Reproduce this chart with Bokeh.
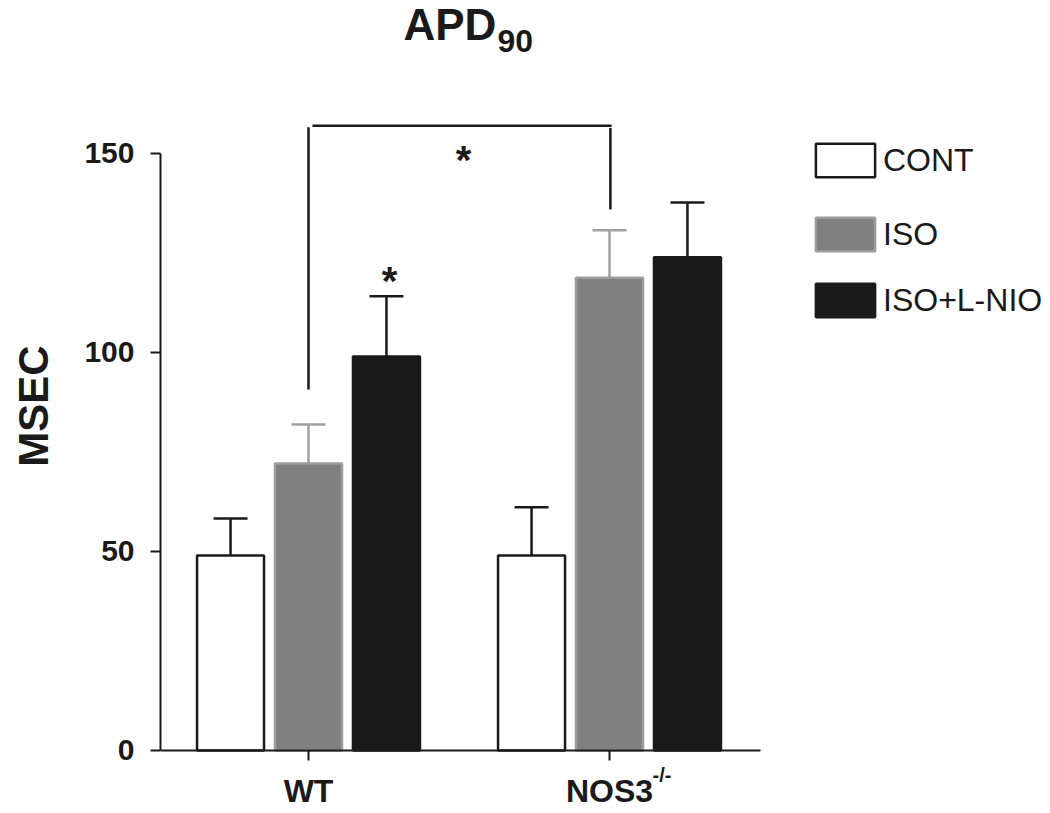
from bokeh.plotting import figure
from bokeh.models import (ColumnDataSource, Whisker, TeeHead, Label, Legend,
                          LegendItem, FixedTicker)
from bokeh.embed import file_html
from bokeh.resources import INLINE

# ---- data ----
groups = ["WT", "NOS3"]
group_pos = [0, 1]
series = ["CONT", "ISO", "ISO+L-NIO"]
cont_mean = [49.0, 49.0]
iso_mean = [72.1, 118.8]
iln_mean = [99.0, 123.9]
cont_err = [9.3, 12.1]
iso_err = [9.8, 11.9]
iln_err = [15.1, 13.8]
y_ticks = [0, 50, 100, 150]

# significance bracket (WT vs NOS3 ISO) and star markers
bracket_left_x = [0.0, 0.0]
bracket_left_y = [90.7, 156.6]
bracket_top_x = [0.013, 1.007]
bracket_top_y = [157.0, 157.0]
bracket_right_x = [1.003, 1.003]
bracket_right_y = [156.4, 135.9]
star_x = [0.269, 0.515]
star_y = [118.0, 148.4]

FONT = "Liberation Sans"
offset = 0.259
bar_w = 0.2226

p = figure(width=1042, height=811, output_backend="svg", toolbar_location=None,
           x_range=(-0.4917, 2.4385), y_range=(-15.33, 188.44),
           min_border_left=160, min_border_right=0, min_border_top=0,
           min_border_bottom=0)
p.outline_line_color = None
p.xgrid.visible = False
p.ygrid.visible = False
p.background_fill_color = "white"

fills = ["white", "#808080", "#1a1a1a"]
lines = ["#1a1a1a", "#9c9c9c", "#1a1a1a"]
err_colors = ["#1a1a1a", "#a0a0a0", "#1a1a1a"]
means = [cont_mean, iso_mean, iln_mean]
errs = [cont_err, iso_err, iln_err]

renderers = []
for i, (name, m, e) in enumerate(zip(series, means, errs)):
    xs = [g + (i - 1) * offset for g in group_pos]
    src = ColumnDataSource(dict(x=xs, top=m, upper=[a + b for a, b in zip(m, e)]))
    r = p.vbar(x="x", top="top", width=bar_w, source=src, fill_color=fills[i],
               line_color=lines[i], line_width=2.5)
    renderers.append(r)
    w = Whisker(base="x", lower="top", upper="upper", source=src,
                line_color=err_colors[i], line_width=2.5,
                upper_head=TeeHead(size=34, line_color=err_colors[i], line_width=2.5),
                lower_head=None, level="overlay")
    p.add_layout(w)

# bracket
for bx, by in [(bracket_left_x, bracket_left_y), (bracket_top_x, bracket_top_y),
               (bracket_right_x, bracket_right_y)]:
    p.line(bx, by, line_color="#1a1a1a", line_width=2.5)

for sx, sy in zip(star_x, star_y):
    p.add_layout(Label(x=sx, y=sy, text="*", text_font=FONT, text_font_style="bold",
                       text_font_size="40px", text_align="center",
                       text_baseline="alphabetic", text_color="#1a1a1a"))

# y axis
p.yaxis.bounds = (0, 150)
p.yaxis.ticker = FixedTicker(ticks=y_ticks)
p.yaxis.minor_tick_line_color = None
p.yaxis.major_tick_out = 10
p.yaxis.major_tick_in = 0
p.yaxis.axis_line_width = 2
p.yaxis.major_tick_line_width = 2
p.yaxis.axis_line_color = "#1a1a1a"
p.yaxis.major_tick_line_color = "#1a1a1a"
p.yaxis.major_label_text_font = FONT
p.yaxis.major_label_text_font_style = "bold"
p.yaxis.major_label_text_font_size = "30px"
p.yaxis.major_label_text_color = "#1a1a1a"
p.yaxis.major_label_standoff = 16
p.yaxis.axis_label = "MSEC"
p.yaxis.axis_label_text_font = FONT
p.yaxis.axis_label_text_font_style = "bold"
p.yaxis.axis_label_text_font_size = "42px"
p.yaxis.axis_label_text_color = "#1a1a1a"
p.yaxis.axis_label_standoff = 24

# x axis drawn at y = 0 inside the frame
p.xaxis.fixed_location = 0
p.xaxis.bounds = (-0.4917, 1.50)
p.xaxis.ticker = FixedTicker(ticks=group_pos)
p.xaxis.major_label_overrides = {0: groups[0], 1: groups[1]}
p.xaxis.minor_tick_line_color = None
p.xaxis.major_tick_out = 10
p.xaxis.major_tick_in = 0
p.xaxis.axis_line_width = 2
p.xaxis.major_tick_line_width = 2
p.xaxis.axis_line_color = "#1a1a1a"
p.xaxis.major_tick_line_color = "#1a1a1a"
p.xaxis.major_label_text_font = FONT
p.xaxis.major_label_text_font_style = "bold"
p.xaxis.major_label_text_font_size = "32px"
p.xaxis.major_label_text_color = "#1a1a1a"
p.xaxis.major_label_standoff = 13

# superscript on NOS3
p.add_layout(Label(x=1, y=0, x_offset=43, y_offset=-25, text="-/-", text_font=FONT,
                   text_font_style="bold", text_font_size="20px",
                   text_baseline="alphabetic", text_align="left", text_color="#1a1a1a"))

# title APD_90
p.add_layout(Label(x=0.3156, y=182.5, text="APD", text_font=FONT,
                   text_font_style="bold", text_font_size="44px",
                   text_baseline="alphabetic", text_align="left", text_color="#1a1a1a"))
p.add_layout(Label(x=0.628, y=178.3, text="90", text_font=FONT,
                   text_font_style="bold", text_font_size="32px",
                   text_baseline="alphabetic", text_align="left", text_color="#1a1a1a"))

# legends (one per item to match spacing)
legend_y = [630, 556, 490]
for r, name, ly in zip(renderers, series, legend_y):
    lg = Legend(items=[LegendItem(label=name, renderers=[r])], location=(648, ly),
                orientation="vertical", padding=0, margin=0, spacing=0,
                glyph_width=74, glyph_height=42, label_standoff=1,
                label_text_font=FONT, label_text_font_size="32px",
                label_text_color="#1a1a1a", label_text_baseline="middle",
                border_line_color=None, background_fill_alpha=0)
    p.add_layout(lg)

open("out.html", "w").write(file_html(p, INLINE))
